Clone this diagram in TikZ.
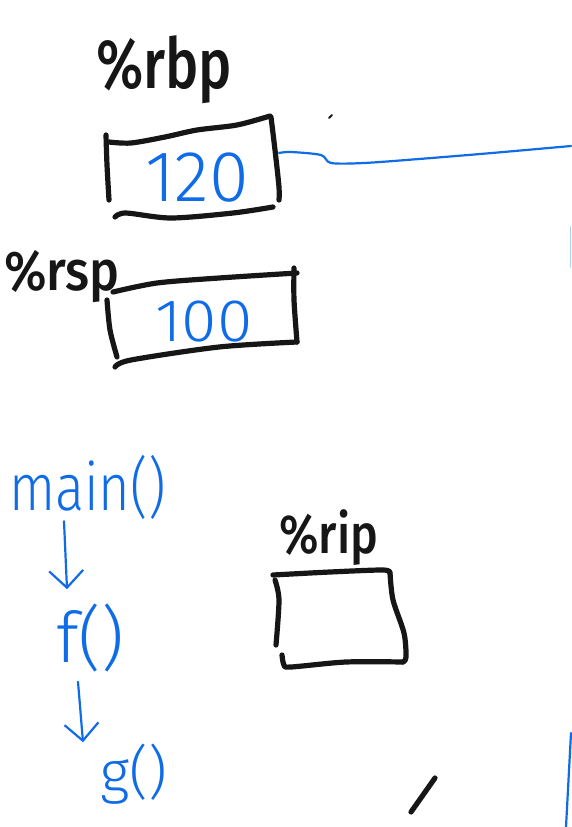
\documentclass[tikz,border=0pt]{standalone}
\usepackage{fontspec}
\usepackage{graphicx}
\usetikzlibrary{arrows.meta}
\setmainfont{Fira Sans}
\newfontfamily\markerfont{Fira Sans Medium}
\newfontfamily\penfont{Fira Sans Light}
\definecolor{inkblack}{RGB}{22,22,22}
\definecolor{penblue}{RGB}{16,108,230}
\begin{document}
\begin{tikzpicture}[x=1pt,y=-1pt,
  ink/.style={draw=inkblack, line width=5.2pt, line cap=round, line join=round},
  pen/.style={draw=penblue, line width=2.2pt, line cap=round, line join=round},
  reglabel/.style={inner sep=0pt, text=inkblack, font=\markerfont},
  value/.style={inner sep=0pt, text=penblue, font=\penfont},
  callarrow/.style={pen, -{Straight Barb[length=17pt,width=34pt]}}
]
\fill[white] (0,0) rectangle (571,827);
\useasboundingbox (0,0) rectangle (571,827);

% register %rbp and its cell
\node[reglabel, anchor=base west] (rbplabel) at (96,88) {\scalebox{0.8}[1]{\fontsize{70}{70}\selectfont\%rbp}};
\draw[ink] plot[smooth] coordinates {(106,135) (107,165) (109,200)};
\draw[ink] plot[smooth] coordinates {(109,142) (131,143) (165,137) (197,130) (237,125) (270,116)};
\draw[ink] plot[smooth] coordinates {(271,117) (275,150) (279,187) (279,200)};
\draw[ink] plot[smooth] coordinates {(115,217) (126,213) (171,218) (233,213) (273,207)};
\node[value] (rbpval) at (197,178) {\fontsize{72}{72}\selectfont 120};
\coordinate (rbpout) at (279,153);
\coordinate (rbpfar) at (571,146);
\draw[pen] plot[smooth] coordinates {(rbpout) (291,152) (321,155) (331,163) (364,163) (419,159) (492,153) (rbpfar)};
\draw[ink, line width=2pt] (329,118) -- (332,115);
\draw[pen, draw=penblue!35, line width=1.5pt] (570.5,227) -- (570.5,267);

% register %rsp and its cell
\node[reglabel, anchor=base west] (rsplabel) at (4,290) {\scalebox{0.9}[1]{\fontsize{56}{56}\selectfont\%rsp}};
\draw[ink] plot[smooth] coordinates {(113,292) (157,283) (219,278) (297,273)};
\draw[ink] plot[smooth] coordinates {(294,268) (294,300) (297,342)};
\draw[ink] plot[smooth] coordinates {(115,367) (131,360) (219,347) (297,342)};
\draw[ink] plot[smooth] coordinates {(107,300) (110,330) (117,357)};
\node[value] (rspval) at (204,322) {\scalebox{1.07}[1]{\fontsize{60}{60}\selectfont 100}};

% call chain
\node[value, anchor=base west] (main) at (9,510) {\scalebox{0.82}[1]{\fontsize{66}{66}\selectfont main()}};
\node[value, anchor=base west] (fcall) at (56,662) {\fontsize{70}{70}\selectfont f()};
\node[value, anchor=base west] (gcall) at (100,792) {\fontsize{58}{58}\selectfont g()};
\draw[callarrow] ([shift={(55,2)}]main.south west) -- ([shift={(11,-14)}]fcall.north west);
\draw[callarrow] ([shift={(22,10)}]fcall.south west) -- ([shift={(-17,-1)}]gcall.north west);

% register %rip and its cell
\node[reglabel, anchor=base west] (riplabel) at (279,553) {\scalebox{0.85}[1]{\fontsize{55}{55}\selectfont\%rip}};
\draw[ink] plot[smooth] coordinates {(273,575) (330,572) (383,570) (390,573)};
\draw[ink] plot[smooth] coordinates {(390,573) (393,600) (404,633) (406,657) (403,662)};
\draw[ink] plot[smooth] coordinates {(403,662) (346,662) (291,667) (284,665) (282,655)};
\draw[ink] plot[smooth] coordinates {(275,580) (279,600) (276,645)};

% stray strokes
\draw[ink] (435,778) -- (411,812);
\draw[pen] (571,733) -- (566,827);
\end{tikzpicture}
\end{document}
